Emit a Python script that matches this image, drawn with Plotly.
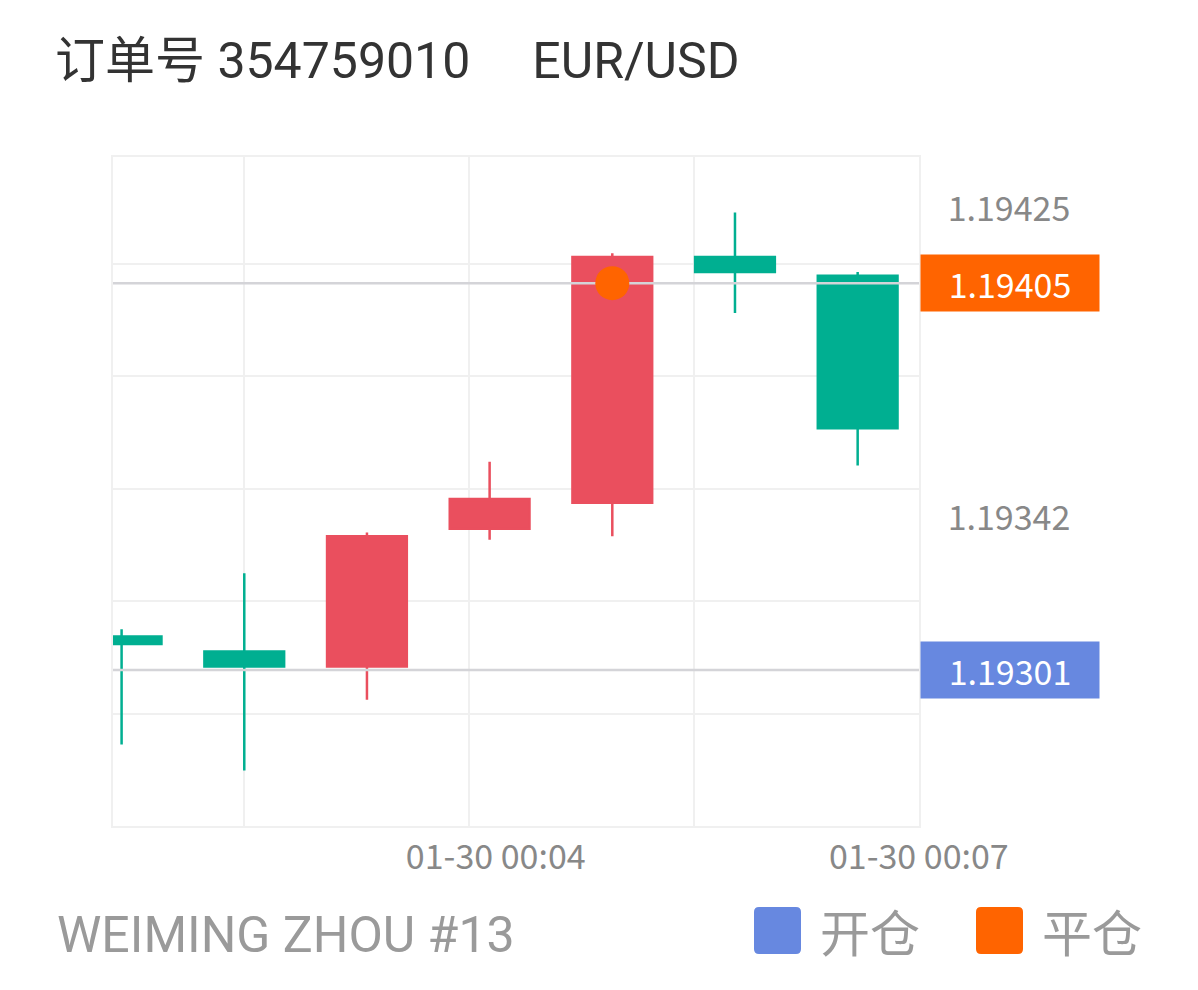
import plotly.graph_objects as go

# 1-minute bars of EUR/USD
times = ["2021-01-30 00:01", "2021-01-30 00:02", "2021-01-30 00:03", "2021-01-30 00:04",
         "2021-01-30 00:05", "2021-01-30 00:06", "2021-01-30 00:07"]
open_ = [1.19310, 1.19306, 1.19302, 1.19339, 1.19346, 1.19412, 1.19407]
high = [1.19312, 1.19327, 1.19338, 1.19357, 1.19413, 1.19424, 1.19408]
low = [1.19281, 1.19274, 1.19293, 1.19336, 1.19337, 1.19397, 1.19356]
close = [1.19308, 1.19302, 1.19337, 1.19347, 1.19412, 1.19408, 1.19366]

# order info
order_no = "354759010"
symbol = "EUR/USD"
account = "WEIMING ZHOU #13"
open_price = 1.19301
close_price = 1.19405
close_time = "2021-01-30 00:05"

# axis labels / grid
price_labels = [1.19425, 1.19342]
price_grid = [1.1928925, 1.193195, 1.1934975, 1.1938, 1.1941025]
y_range = [1.192591, 1.194389]
x_range = ["2021-01-30 00:00:55.8", "2021-01-30 00:07:30"]
time_grid = ["2021-01-30 00:02:00", "2021-01-30 00:03:50", "2021-01-30 00:05:40"]
time_tickvals = ["2021-01-30 00:04:03", "2021-01-30 00:07:29.9"]
time_ticktext = ["01-30 00:04", "01-30 00:07"]

RED = "#EA4F5E"
GREEN = "#00AF91"
ORANGE = "#FF6400"
BLUE = "#6788E0"
GRID = "#F0F0F0"
LEVEL = "#D4D4D8"

W, H = 1198, 990
ML, MR, MT, MB = 113, 279, 157, 164
PW, PH = W - ML - MR, H - MT - MB


def px_x(px):
    return (px - ML) / PW


def px_y(py):
    return (H - MB - py) / PH


def rounded_square(half, r):
    return (f"M {-half + r},{-half} L {half - r},{-half} Q {half},{-half} {half},{-half + r} "
            f"L {half},{half - r} Q {half},{half} {half - r},{half} "
            f"L {-half + r},{half} Q {-half},{half} {-half},{half - r} "
            f"L {-half},{-half + r} Q {-half},{-half} {-half + r},{-half} Z")


fig = go.Figure()

fig.add_trace(go.Candlestick(
    x=times, open=open_, high=high, low=low, close=close,
    increasing=dict(line=dict(color=RED, width=2.5), fillcolor=RED),
    decreasing=dict(line=dict(color=GREEN, width=2.5), fillcolor=GREEN),
    whiskerwidth=0, showlegend=False, hoverinfo="skip",
))

# open / close price lines (above candles, below the close marker)
for p in (open_price, close_price):
    fig.add_trace(go.Scatter(
        x=x_range, y=[p, p], mode="lines",
        line=dict(color=LEVEL, width=2.5),
        showlegend=False, hoverinfo="skip",
    ))

fig.add_trace(go.Scatter(
    x=[close_time], y=[close_price], mode="markers",
    marker=dict(color=ORANGE, size=34, line=dict(width=0)),
    showlegend=False, hoverinfo="skip",
))

label_font = dict(family="Noto Sans CJK SC", size=34)

annotations = []
for v in price_labels:
    annotations.append(dict(
        x=1, xref="paper", y=v, yref="y", xanchor="left", yanchor="middle",
        text=f"{v:.5f}", showarrow=False, width=170, height=48, borderpad=4,
        align="center", font=dict(color="#888888", **label_font), xshift=0, yshift=3,
    ))
for v, c in ((close_price, ORANGE), (open_price, BLUE)):
    annotations.append(dict(
        x=1, xref="paper", y=v, yref="y", xanchor="left", yanchor="middle",
        text=f"{v:.5f}", showarrow=False, width=170, height=48, borderpad=4,
        bgcolor=c, align="center", font=dict(color="white", **label_font), xshift=1,
    ))

# footer
annotations.append(dict(
    x=px_x(55), y=px_y(935), xref="paper", yref="paper", xanchor="left", yanchor="middle",
    text=account, showarrow=False,
    font=dict(family="Roboto", size=50, color="#9A9A9A"),
))
shapes = []
for cx, color, name in ((777.5, BLUE, "开仓"), (999.5, ORANGE, "平仓")):
    shapes.append(dict(
        type="path", xref="paper", yref="paper", xsizemode="pixel", ysizemode="pixel",
        xanchor=px_x(cx), yanchor=px_y(930.5), path=rounded_square(23.5, 5),
        fillcolor=color, line=dict(width=0),
    ))
    annotations.append(dict(
        x=px_x(cx + 40), y=px_y(930), xref="paper", yref="paper", xanchor="left", yanchor="middle",
        text=name, showarrow=False,
        font=dict(family="Noto Sans CJK SC", size=50, color="#9A9A9A"),
    ))

fig.update_layout(
    width=W, height=H,
    margin=dict(l=ML, r=MR, t=MT, b=MB),
    paper_bgcolor="white", plot_bgcolor="white",
    boxgap=0.35, boxgroupgap=0,
    title=dict(
        text=f"订单号 {order_no}" + "\u00a0" * 5 + symbol,
        x=55 / W, xref="container", xanchor="left",
        y=1 - 60 / H, yref="container", yanchor="middle",
        font=dict(family="Roboto, Noto Sans CJK SC", size=50, color="#333333"),
    ),
    annotations=annotations,
    shapes=shapes,
    showlegend=False,
)

fig.update_xaxes(
    type="date", range=x_range, rangeslider_visible=False,
    tickmode="array", tickvals=time_tickvals, ticktext=time_ticktext,
    showgrid=False, ticks="",
    tickfont=dict(family="Noto Sans CJK SC", size=34, color="#888888"),
    minor=dict(tickmode="array", tickvals=time_grid, showgrid=True, gridcolor=GRID, gridwidth=2),
    showline=True, mirror=True, linecolor=GRID, linewidth=2, zeroline=False,
)
fig.update_yaxes(
    range=y_range, tickmode="array", tickvals=price_grid, showticklabels=False,
    showgrid=True, gridcolor=GRID, gridwidth=2, ticks="",
    showline=True, mirror=True, linecolor=GRID, linewidth=2, zeroline=False,
)

fig.write_html("out.html", config={"displayModeBar": False},
               post_script="document.body.style.margin='0';")
